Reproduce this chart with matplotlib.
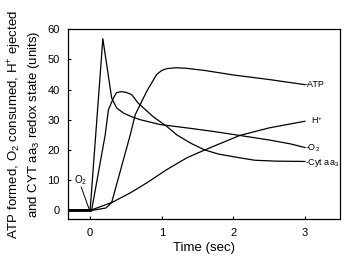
import matplotlib
matplotlib.use('Agg')
import matplotlib.pyplot as plt

plt.rcParams['font.family'] = ['Liberation Sans', 'DejaVu Sans']
plt.rcParams['mathtext.fontset'] = 'custom'
plt.rcParams['mathtext.rm'] = 'Liberation Sans'

# -----------------------------
# Data
# -----------------------------
t_o2 = [-0.3, 0.0, 0.177, 0.30, 0.37, 0.465, 0.58, 0.70, 0.98, 1.35, 1.7, 2.09, 2.5, 2.8, 3.0]
v_o2 = [0.0, 0.3, 56.8, 37.2, 33.9, 32.2, 31.0, 30.0, 28.4, 27.3, 26.2, 24.8, 23.3, 22.0, 20.8]

t_cyt = [-0.3, 0.02, 0.21, 0.255, 0.325, 0.37, 0.44, 0.51, 0.58, 0.67, 0.88, 1.07, 1.21,
         1.4, 1.6, 1.8, 2.09, 2.3, 2.6, 3.0]
v_cyt = [0.0, 0.0, 25.0, 33.3, 37.2, 39.0, 39.3, 39.0, 38.3, 35.5, 31.0, 27.8, 25.0,
         22.3, 20.0, 18.6, 17.4, 16.6, 16.3, 16.2]

t_atp = [-0.3, 0.02, 0.22, 0.30, 0.56, 0.63, 0.79, 0.93, 1.0, 1.07, 1.2, 1.35, 1.6, 2.0, 2.5, 3.0]
v_atp = [0.0, 0.0, 0.8, 2.6, 25.0, 31.7, 39.4, 45.0, 46.3, 46.9, 47.2, 47.0, 46.3, 44.8, 43.3, 41.6]

t_h = [-0.3, 0.0, 0.15, 0.30, 0.56, 0.79, 1.07, 1.35, 1.6, 2.09, 2.5, 3.0]
v_h = [0.0, 0.0, 1.3, 2.6, 5.8, 9.1, 13.5, 17.4, 20.0, 24.8, 27.3, 29.5]

x_ticks = [0, 1, 2, 3]
y_ticks = [0, 10, 20, 30, 40, 50, 60]

# -----------------------------
# Figure
# -----------------------------
fig = plt.figure(figsize=(3.55, 2.64), dpi=100)
ax = fig.add_axes([0.1915, 0.1686, 0.7662, 0.7214])

for t, v in [(t_o2, v_o2), (t_cyt, v_cyt), (t_atp, v_atp), (t_h, v_h)]:
    ax.plot(t, v, color='black', linewidth=0.9)

# thick baseline before t = 0
ax.plot([-0.3, 0.0], [0, 0], color='black', linewidth=2.0)

# end labels
ax.text(3.0, v_atp[-1], '-ATP', fontsize=6.5, va='center', ha='left')
ax.text(3.08, v_h[-1] + 0.5, 'H$^{+}$', fontsize=6.5, va='center', ha='left')
ax.text(3.0, v_o2[-1] - 0.3, '-O$_2$', fontsize=6.5, va='center', ha='left')
ax.text(3.0, v_cyt[-1] - 0.5, '-Cyt aa$_3$', fontsize=6.5, va='center', ha='left')

# O2 pointer near origin
ax.text(-0.13, 10.1, 'O$_2$', fontsize=7, ha='center', va='center')
ax.plot([-0.125, -0.014], [7.7, 0.4], color='black', linewidth=0.7)

ax.set_xlim(-0.31, 3.49)
ax.set_ylim(-3, 60)
ax.set_xticks(x_ticks)
ax.set_yticks(y_ticks)
ax.tick_params(direction='in', length=2.5, width=0.8, labelsize=8, pad=6)
for s in ax.spines.values():
    s.set_linewidth(0.9)

ax.set_xlabel('Time (sec)', fontsize=9.5, labelpad=3)
ax.set_ylabel('ATP formed, O$_2$ consumed, H$^{+}$ ejected\nand CYT aa$_3$ redox state (units)',
              fontsize=9.5, labelpad=4)

fig.savefig('out.png', dpi=100)
